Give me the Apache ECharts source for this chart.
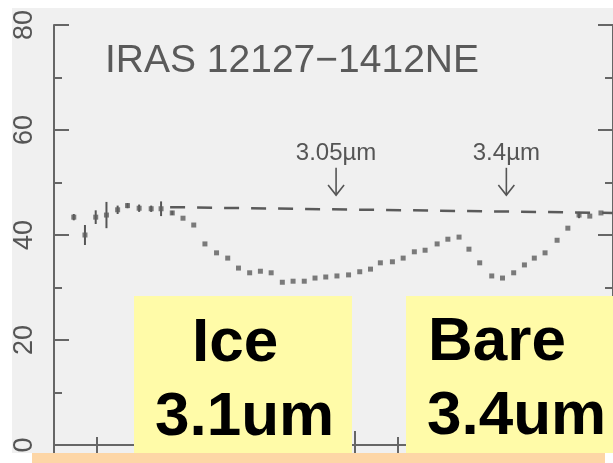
<!DOCTYPE html>
<html><head><meta charset="utf-8">
<script src="https://cdn.jsdelivr.net/npm/echarts@6/dist/echarts.min.js"></script>
<style>html,body{margin:0;padding:0;background:#fff}#c{width:613px;height:463px}</style>
</head><body><div id="c"></div>
<script>
// observed wavelength (µm) and flux density
const wavelength = [2.846, 2.872, 2.897, 2.922, 2.948, 2.971, 2.998, 3.026, 3.049, 3.075,
  3.100, 3.125, 3.151, 3.178, 3.204, 3.229, 3.255, 3.280, 3.305, 3.331,
  3.356, 3.382, 3.407, 3.432, 3.458, 3.485, 3.511, 3.536, 3.559, 3.587,
  3.612, 3.638, 3.663, 3.691, 3.716, 3.742, 3.765, 3.790, 3.818, 3.843,
  3.869, 3.894, 3.917, 3.942, 3.970, 3.995, 4.021, 4.046, 4.072];
const flux = [43.4, 40.0, 43.4, 43.8, 44.8, 45.6, 45.1, 45.0, 45.0, 44.2,
  43.2, 41.9, 38.3, 36.6, 35.6, 33.7, 32.8, 33.1, 32.8, 31.0,
  31.2, 31.2, 31.8, 32.0, 32.2, 32.4, 33.0, 33.5, 34.7, 34.9,
  35.6, 36.8, 37.1, 38.3, 39.2, 39.6, 37.3, 34.7, 32.2, 31.8,
  32.8, 34.3, 35.6, 36.6, 39.0, 41.3, 43.8, 43.6, 44.2];
const fluxError = [0.6, 1.9, 1.3, 2.5, 0.8, 0.5, 0.7, 0.6, 1.4, 0.4,
  0, 0, 0, 0, 0, 0, 0, 0, 0, 0,
  0, 0, 0, 0, 0, 0, 0, 0, 0, 0,
  0, 0, 0, 0, 0, 0, 0, 0, 0, 0,
  0, 0, 0, 0, 0, 0, 0.6, 0, 0];
const continuumWavelength = [3.07, 4.10];
const continuumFlux = [45.3, 44.2];
const featureWavelength = [3.456, 3.852];
const featureLabel = ['3.05\u00b5m', '3.4\u00b5m'];
const yTickLabels = [0, 20, 40, 60, 80];
const xMajorTicks = [3.0, 3.5, 4.0];
const titleText = 'IRAS 12127\u22121412NE';
const boxLines = [['Ice', '3.1um'], ['Bare', '3.4um']];

const AX = '#666';
const chart = echarts.init(document.getElementById('c'), null, {renderer: 'canvas'});

function xAx(pos, major) {
  return {
    type: 'value', position: pos, min: 2.8, max: 4.1,
    interval: 0.1,
    axisLine: {show: !major, lineStyle: {color: AX, width: 2}},
    axisTick: major ? {show: true, inside: true, length: 14, customValues: xMajorTicks, lineStyle: {color: AX, width: 2}}
                    : {show: true, inside: true, length: 8, lineStyle: {color: AX, width: 2}},
    axisLabel: {show: false}, splitLine: {show: false}
  };
}
function yAx(pos, major) {
  return {
    type: 'value', position: pos, min: 0, max: 80,
    interval: major ? 20 : 10,
    axisLine: {show: major, lineStyle: {color: AX, width: 2}},
    axisTick: {show: true, inside: true, length: major ? 15 : 8, lineStyle: {color: AX, width: 2}},
    axisLabel: (major && pos === 'left') ? {
      show: true, rotate: 90, margin: 16, fontSize: 27, color: '#555',
      fontFamily: 'Liberation Sans',
      customValues: yTickLabels
    } : {show: false},
    splitLine: {show: false}
  };
}

const points = wavelength.map((w, i) => [w, flux[i]]);
const errs = wavelength.map((w, i) => [w, flux[i], fluxError[i]]).filter(d => d[2] > 0);
const cont = continuumWavelength.map((w, i) => [w, continuumFlux[i]]);
const feats = featureWavelength.map((w, i) => [w, featureLabel[i]]);

chart.setOption({
  animation: false,
  backgroundColor: '#ffffff',
  title: {
    text: titleText, left: 100, top: 37,
    textStyle: {fontSize: 39, fontWeight: 'normal', color: '#5a5a5a', fontFamily: 'Liberation Sans'}
  },
  grid: {left: 54, top: 25, width: 563, height: 420},
  xAxis: [xAx('bottom', false), xAx('bottom', true), xAx('top', false), xAx('top', true)],
  yAxis: [yAx('left', true), yAx('left', false), yAx('right', true), yAx('right', false)],
  series: [
    {
      type: 'line', data: cont, showSymbol: false, symbol: 'none',
      lineStyle: {color: '#5a5a5a', width: 2.5, type: [15, 12]}, z: 3
    },
    {
      type: 'custom', data: errs,
      renderItem: function (params, api) {
        const a = api.coord([api.value(0), api.value(1) - api.value(2)]);
        const b = api.coord([api.value(0), api.value(1) + api.value(2)]);
        return {type: 'line', shape: {x1: a[0], y1: a[1], x2: b[0], y2: b[1]},
          style: {stroke: '#555', lineWidth: 2}};
      }, z: 4
    },
    {
      type: 'scatter', data: points, symbol: 'rect', symbolSize: [5, 5],
      itemStyle: {color: '#5c5c5c'}, z: 5
    },
    {
      type: 'custom', data: feats,
      encode: {x: 0},
      renderItem: function (params, api) {
        const w = api.value(0);
        const label = featureLabel[params.dataIndex];
        const top = api.coord([w, 52.8]);
        const tip = api.coord([w, 47.6]);
        const txt = api.coord([w, 55.6]);
        return {type: 'group', children: [
          {type: 'line', shape: {x1: top[0], y1: top[1], x2: tip[0], y2: tip[1]}, style: {stroke: '#555', lineWidth: 1.6}},
          {type: 'polyline', shape: {points: [[tip[0] - 8, tip[1] - 10], [tip[0], tip[1]], [tip[0] + 8, tip[1] - 10]]}, style: {stroke: '#555', lineWidth: 1.6, fill: null}},
          {type: 'text', x: txt[0], y: txt[1], style: {text: label, fontSize: 24, fontFamily: 'Liberation Sans', fill: '#555', align: 'center', verticalAlign: 'middle'}}
        ]};
      }, z: 5
    }
  ],
  graphic: [
    {type: 'rect', shape: {x: 12, y: 8, width: 601, height: 445}, style: {fill: '#f0f0f0'}, z: -10, silent: true},
    {type: 'rect', shape: {x: 0, y: 453, width: 613, height: 10}, style: {fill: '#ffffff'}, z: 100},
    {type: 'rect', shape: {x: 32, y: 453, width: 573, height: 10}, style: {fill: '#fdd6a6'}, z: 101},
    {type: 'rect', shape: {x: 134, y: 296, width: 218, height: 157}, style: {fill: '#fffba8'}, z: 101},
    {type: 'rect', shape: {x: 406, y: 296, width: 207, height: 157}, style: {fill: '#fffba8'}, z: 101},
    {type: 'text', x: 192, y: 344, style: {text: boxLines[0][0], font: 'bold 62px "Liberation Sans"', fill: '#000', verticalAlign: 'middle'}, z: 102},
    {type: 'text', x: 155, y: 418, style: {text: boxLines[0][1], font: 'bold 62px "Liberation Sans"', fill: '#000', verticalAlign: 'middle'}, z: 102},
    {type: 'text', x: 428, y: 343, style: {text: boxLines[1][0], font: 'bold 62px "Liberation Sans"', fill: '#000', verticalAlign: 'middle'}, z: 102},
    {type: 'text', x: 427, y: 417, style: {text: boxLines[1][1], font: 'bold 62px "Liberation Sans"', fill: '#000', verticalAlign: 'middle'}, z: 102}
  ]
});
</script>
</body></html>
